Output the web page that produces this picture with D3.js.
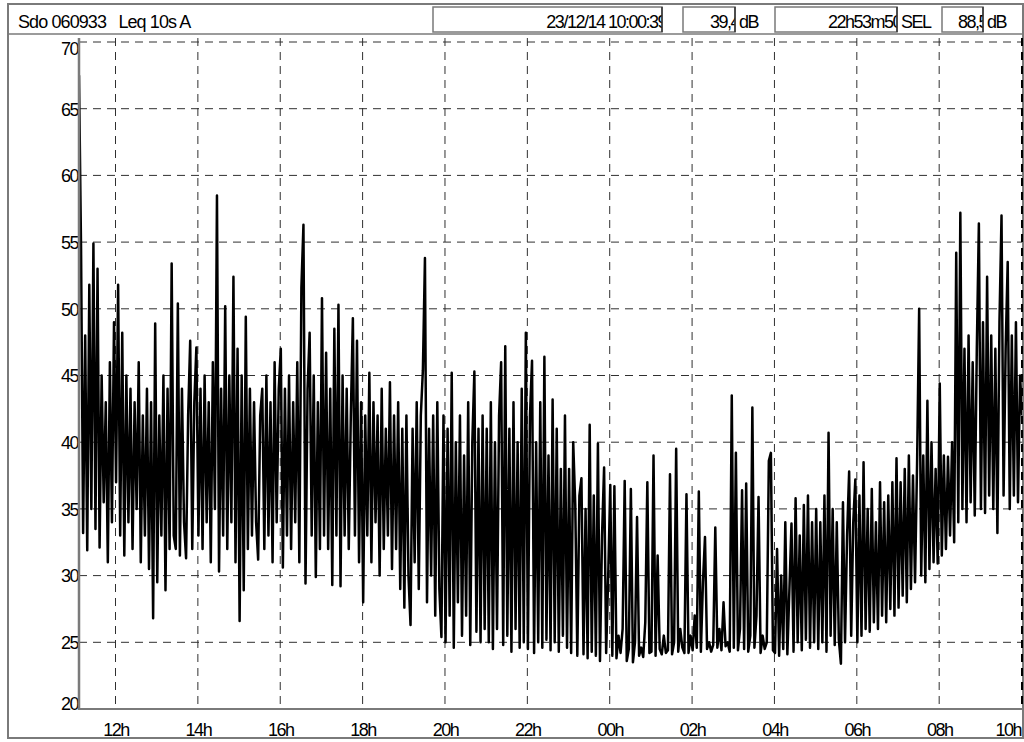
<!DOCTYPE html>
<html>
<head>
<meta charset="utf-8">
<script src="https://cdn.jsdelivr.net/npm/d3@7"></script>
<style>
  body { margin: 0; background: #fff; }
  svg text { font-family: "Liberation Sans Narrow", "Liberation Sans", Arial, sans-serif; fill: #000; }
</style>
</head>
<body>
<svg id="chart" width="1024" height="742"></svg>
<script>
// header contents
const headerTitle = "Sdo 060933   Leq 10s A"
const headerFields = ["23/12/14 10:00:39", "39,4dB", "22h53m50", "SEL", "88,5dB"]

// time base: Leq values resampled every 3 minutes
const startTime = new Date(2014, 11, 23, 11, 6, 49)
const endTime   = new Date(2014, 11, 24, 10, 0, 39)
const stepSeconds = 180

const yTicks = [20, 25, 30, 35, 40, 45, 50, 55, 60, 65, 70]

// dB(A), one row per hour (first row is 11:06 -> 12:00)
const leq = [
  67.5, 54.4, 33.2, 48, 31.9, 51.8, 35, 54.9, 33.5, 53, 32.1, 45, 35.5, 43, 31, 46, 34, 49,
  37, 51.8, 33, 48.2, 31.5, 45, 34, 44, 32, 43, 35, 46, 31, 42, 33, 44, 30.5, 43, 26.8, 48.9,
  29.5, 42, 33, 45, 28.9, 44, 32, 53.4, 33, 32, 50.4, 31.5, 44, 34, 31.3, 42, 47.6, 32, 43, 47.1,
  33, 44, 32, 45, 34, 43, 31, 46, 35, 58.5, 30.3, 44, 33, 50.2, 32, 45, 34, 52.4, 31, 47,
  26.6, 45, 28.9, 49.4, 32, 44, 33, 43, 34, 31.2, 42, 44, 32, 45, 33, 43, 31, 46, 34, 44,
  47, 30.6, 44, 33, 45, 32, 43, 34, 46, 31, 51.6, 56.3, 29.4, 44, 48.2, 33, 45, 29.9, 43, 32,
  50.8, 33, 46.7, 32, 44, 29.3, 48.5, 33, 50.3, 29.2, 45, 33, 44, 32, 42, 49.3, 33, 47.6, 31, 43,
  28, 42, 33, 45.2, 31, 43, 34, 42, 30, 44, 32, 41, 33, 44.5, 30.5, 42, 32, 43, 29, 41,
  27.6, 42, 30, 26.3, 41, 31, 43, 29, 42, 45.4, 53.8, 28, 41, 30, 42, 27, 43, 29, 25.4, 42,
  25, 41, 27, 45.2, 24.6, 40, 28, 42, 25.5, 39, 27, 43, 24.8, 40, 45.3, 25.8, 41, 25, 42, 26,
  41, 25, 43, 24.5, 40, 26, 42, 46, 24.8, 47.2, 25.5, 41, 24.3, 43, 26, 40, 24.6, 44, 25, 48.2,
  24.5, 42, 46.1, 24.2, 40, 25, 43, 24.6, 46.4, 25.2, 39, 24.4, 43.2, 25, 41, 24.3, 38, 25.5, 42, 24.6,
  38, 24.2, 40, 35.3, 24, 36, 37.3, 24.1, 35, 23.8, 41.3, 24.3, 36, 24, 39.9, 23.6, 33, 38.1, 24.2, 30,
  36.8, 24, 36.7, 23.8, 25.5, 24.2, 26, 37.1, 23.6, 24.5, 36.5, 23.5, 25, 34.4, 24, 24.6, 23.9, 26.5, 37, 24.2,
  24.3, 39, 24, 31.5, 24.5, 24.1, 25.5, 24.2, 24.4, 37.6, 24.1, 25, 39.5, 24.3, 26, 24.6, 24.2, 36.1, 24.2, 25.5,
  24.4, 27, 24.6, 36.3, 24.3, 29.5, 32.9, 24.5, 25, 24.3, 24.8, 33.6, 24.6, 26, 24.4, 28, 24.7, 25, 24.3, 43.5,
  24.6, 39.2, 24.4, 26, 36.4, 24.5, 36.9, 24.3, 25.5, 42.6, 24.6, 27, 35.9, 24.2, 25.5, 24.5, 25, 38.6, 39.2, 24.4,
  24.2, 32, 24, 30, 24.5, 34, 24.1, 29, 33.9, 24.3, 35.8, 25, 33, 24.4, 35.3, 25.2, 36, 24.6, 34, 25,
  35, 24.5, 34, 25, 36, 24.3, 40.7, 25.5, 35, 24.8, 34, 25.2, 23.4, 35.5, 25, 33, 37.8, 25.5, 34, 37.2,
  25, 36, 25.5, 38.5, 26, 35, 25.8, 36.5, 26.5, 34, 26, 37, 27, 35.5, 26.5, 36, 27.5, 37, 27, 38.8,
  27.6, 37, 28.5, 38, 28, 39, 29, 37.5, 29.5, 38.5, 50, 30, 39, 29.5, 43.1, 30.5, 40, 31, 38, 30.9,
  44.4, 31.5, 39, 32, 38.9, 33, 40, 32.5, 54.2, 34, 57.2, 35, 47, 34, 48, 35.5, 46, 34.5, 47, 56.4,
  35, 49, 34.7, 52.4, 36, 48, 35, 47, 33.2, 49, 57, 36, 47, 53.5, 35, 48, 36, 49, 35.5, 45,
  42
]

const svg = d3.select("#chart")
const grey = "#7a7a7a"
const fontSize = 18
const tight = -1.5

const plot = { left: 79, right: 1022, top: 38, bottom: 709 }

const x = d3.scaleTime().domain([startTime, endTime]).range([plot.left, plot.right])
const y = d3.scaleLinear().domain([20, 70]).range([plot.bottom, 42])

const points = leq.map((v, i) => ({ t: new Date(+startTime + i * stepSeconds * 1000), v }))

// outer frame
svg.append("rect")
  .attr("x", 8).attr("y", 4).attr("width", 1015).attr("height", 734)
  .attr("fill", "none").attr("stroke", grey).attr("stroke-width", 2)

// header
svg.append("line")
  .attr("x1", 8).attr("x2", 1023).attr("y1", 34).attr("y2", 34)
  .attr("stroke", grey).attr("stroke-width", 1.5)

svg.append("text")
  .attr("x", 18).attr("y", 28)
  .attr("font-size", fontSize).attr("letter-spacing", -0.9)
  .style("white-space", "pre")
  .text(headerTitle)

const boxes = [
  { x0: 433, x1: 662, text: headerFields[0] },
  { x0: 683, x1: 735, text: headerFields[1].replace("dB", ""), unit: "dB" },
  { x0: 775, x1: 897, text: headerFields[2], unit: headerFields[3] },
  { x0: 942, x1: 983, text: headerFields[4].replace("dB", ""), unit: "dB" }
]

const defs = svg.append("defs")
boxes.forEach((b, i) => {
  defs.append("clipPath").attr("id", "hclip" + i)
    .append("rect").attr("x", b.x0).attr("y", 7).attr("width", b.x1 - b.x0).attr("height", 25)
})

const hb = svg.append("g").selectAll("g").data(boxes).enter().append("g")
hb.append("rect")
  .attr("x", d => d.x0).attr("y", 7)
  .attr("width", d => d.x1 - d.x0).attr("height", 25)
  .attr("fill", "#fff").attr("stroke", grey).attr("stroke-width", 1.5)
hb.append("text")
  .attr("clip-path", (d, i) => `url(#hclip${i})`)
  .attr("x", d => d.x1 + 4).attr("y", 28)
  .attr("text-anchor", "end")
  .attr("font-size", fontSize).attr("letter-spacing", tight)
  .text(d => d.text)
hb.append("line")
  .attr("x1", d => d.x1).attr("x2", d => d.x1).attr("y1", 7).attr("y2", 32)
  .attr("stroke", "#333").attr("stroke-width", 1.5)
hb.filter(d => d.unit).append("text")
  .attr("x", d => d.x1 + 4).attr("y", 28)
  .attr("font-size", fontSize).attr("letter-spacing", tight)
  .text(d => d.unit)

// grid
const grid = svg.append("g").attr("stroke", "#303030").attr("stroke-width", 1).attr("stroke-dasharray", "8,6")
grid.selectAll(".hg").data(yTicks.slice(1)).enter().append("line")
  .attr("x1", plot.left).attr("x2", plot.right)
  .attr("y1", d => y(d)).attr("y2", d => y(d))
grid.selectAll(".vg").data(x.ticks(d3.timeHour.every(2))).enter().append("line")
  .attr("x1", d => x(d)).attr("x2", d => x(d))
  .attr("y1", plot.top).attr("y2", plot.bottom)

// series
svg.append("clipPath").attr("id", "plotclip")
  .append("rect").attr("x", plot.left).attr("y", plot.top)
  .attr("width", plot.right - plot.left).attr("height", plot.bottom - plot.top)

svg.append("path")
  .datum(points)
  .attr("clip-path", "url(#plotclip)")
  .attr("fill", "none").attr("stroke", "#000").attr("stroke-width", 2.5)
  .attr("stroke-linejoin", "round")
  .attr("d", d3.line().x(d => x(d.t)).y(d => y(d.v)))

// axes
const yAxis = svg.append("g")
  .attr("transform", `translate(${plot.left},0)`)
  .call(d3.axisLeft(y).tickValues(yTicks).tickSize(0).tickPadding(1))
yAxis.select(".domain").remove()
yAxis.selectAll("text")
  .attr("font-size", fontSize).attr("letter-spacing", tight)
  .attr("dy", d => d === 70 ? "0.7em" : d === 20 ? "0.05em" : "0.35em")

const xAxis = svg.append("g")
  .attr("transform", `translate(0,${plot.bottom})`)
  .call(d3.axisBottom(x).ticks(d3.timeHour.every(2)).tickFormat(d3.timeFormat("%Hh")).tickSize(0).tickPadding(14))
xAxis.select(".domain").remove()
xAxis.selectAll("text").attr("font-size", fontSize).attr("letter-spacing", tight)
xAxis.selectAll(".tick").filter((d, i, n) => i === n.length - 1)
  .select("text").attr("text-anchor", "end").attr("dx", -1)

svg.selectAll(".tick text").attr("fill", "#000").attr("font-family", null)

svg.append("line")
  .attr("x1", plot.left).attr("x2", plot.left).attr("y1", plot.top).attr("y2", plot.bottom + 1)
  .attr("stroke", grey).attr("stroke-width", 2.5)
svg.append("line")
  .attr("x1", plot.left).attr("x2", plot.right).attr("y1", plot.bottom).attr("y2", plot.bottom)
  .attr("stroke", grey).attr("stroke-width", 2)
svg.append("line")
  .attr("x1", plot.right).attr("x2", plot.right).attr("y1", plot.top).attr("y2", plot.bottom)
  .attr("stroke", "#000").attr("stroke-width", 2).attr("stroke-dasharray", "8,6")
</script>
</body>
</html>
